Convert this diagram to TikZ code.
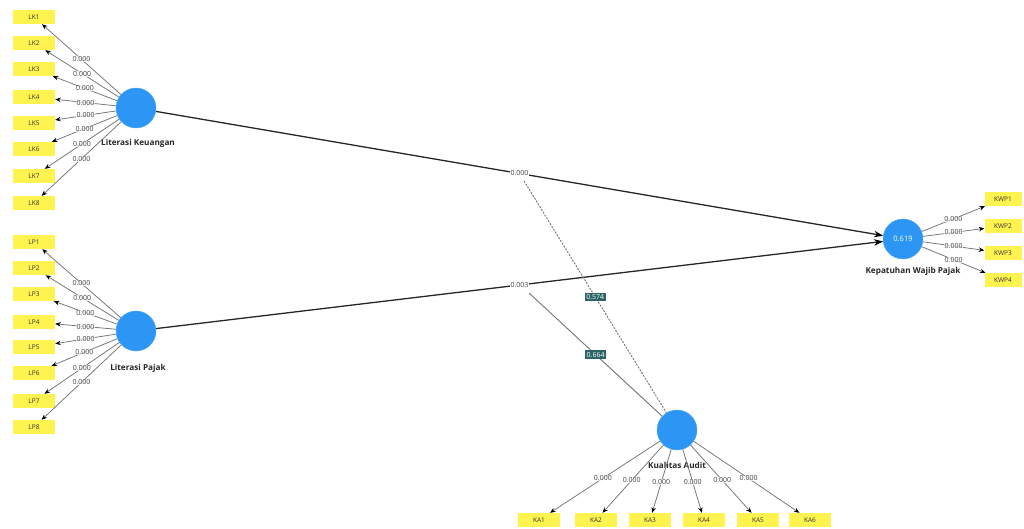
\documentclass[tikz,border=0pt]{standalone}
\usepackage{fontspec}
\setmainfont{Open Sans}
\usetikzlibrary{arrows.meta}
\definecolor{lvblue}{RGB}{45,150,245}
\definecolor{indyel}{RGB}{255,243,80}
\definecolor{modteal}{RGB}{45,100,105}
\begin{document}
\begin{tikzpicture}[x=1pt,y=-1pt,
  lv/.style={circle,fill=lvblue,draw=lvblue!85!white,minimum size=40pt,inner sep=0,text=white,font=\fontsize{7.5}{8}\selectfont},
  ind/.style={fill=indyel,minimum width=42pt,minimum height=14pt,inner sep=0,font=\fontsize{6.5}{7}\selectfont,text=black!80},
  lvlab/.style={font=\bfseries\fontsize{8.2}{9}\selectfont,text=black!85},
  load/.style={draw=black!55,line width=0.75pt,-{Stealth[length=5.5pt,width=4.5pt,color=black]}},
  wt/.style={font=\fontsize{7}{8}\selectfont,text=black!75,fill=white,fill opacity=0.7,text opacity=1,inner sep=0.3pt,pos=0.5},
  mainpath/.style={draw=black!85,line width=1.3pt,-{Stealth[length=9pt,width=6.5pt,color=black]}},
  modline/.style={draw=black!55,line width=0.9pt},
  modlab/.style={fill=modteal,text=white,font=\fontsize{7}{8}\selectfont,inner sep=1.6pt},
]
\useasboundingbox (0,0) rectangle (1024,529);

% latent variables
\node[lv] (LKv) at (136,108) {};
\node[lv] (LPv) at (136,331) {};
\node[lv] (KWPv) at (903,239) {0.619};
\node[lv] (KAv) at (677,430) {};

\node[lvlab] (LKl) at (138,143) {Literasi Keuangan};
\node[lvlab] (LPl) at (138,368) {Literasi Pajak};
\node[lvlab] (KWPl) at (913,271) {Kepatuhan Wajib Pajak};
\node[lvlab] (KAl) at (677,465) {Kualitas Audit};

% LK indicators
\foreach \i/\y in {1/17,2/43,3/69,4/97,5/123,6/149,7/176,8/203}{
  \node[ind] (LK\i) at (34,\y) {LK\i};
  \draw[load] (LKv) -- node[wt]{0.000} (LK\i);
}
% LP indicators
\foreach \i/\y in {1/242,2/268,3/294,4/322,5/347,6/373,7/401,8/427}{
  \node[ind] (LP\i) at (34,\y) {LP\i};
  \draw[load] (LPv) -- node[wt]{0.000} (LP\i);
}
% KWP indicators
\foreach \i/\y in {1/199,2/226,3/253,4/280}{
  \node[ind,minimum width=37pt] (KWP\i) at (1003,\y) {KWP\i};
  \draw[load] (KWPv) -- node[wt]{0.000} (KWP\i);
}
% KA indicators
\foreach \i/\x in {1/539,2/596,3/650,4/704,5/758,6/810}{
  \node[ind] (KA\i) at (\x,520) {KA\i};
  \draw[load] (KAv) -- node[wt,pos=0.52]{0.000} (KA\i);
}

% structural paths
\draw[mainpath] (LKv) -- node[wt,fill opacity=1]{0.000} (KWPv);
\draw[mainpath] (LPv) -- node[wt,fill opacity=1]{0.003} (KWPv);

% moderating effects
\coordinate (m1) at (524,181);
\coordinate (m2) at (529,293);
\draw[modline,dash pattern=on 2pt off 1.3pt] (m1) -- node[modlab]{0.574} (KAv);
\draw[modline] (m2) -- node[modlab]{0.664} (KAv);
\end{tikzpicture}
\end{document}
